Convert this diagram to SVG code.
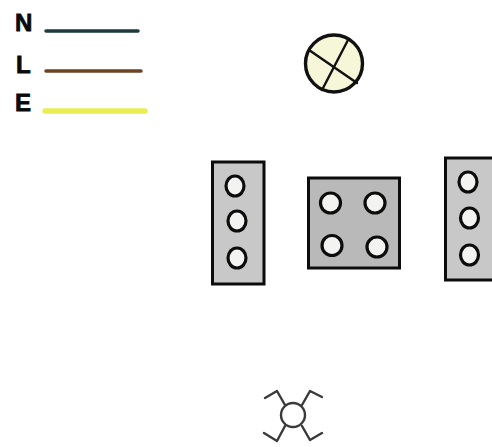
<svg xmlns="http://www.w3.org/2000/svg" width="492" height="447" viewBox="0 0 492 447">
<style>
.lbl{font-family:"Liberation Sans",Arial,sans-serif;font-weight:700;font-size:24px;fill:#0a0a0a;stroke:#0a0a0a;stroke-width:.8}
.wire{fill:none;stroke-linecap:round}
.box{stroke:#0c0c0c;stroke-width:3}
.hole{fill:#f3f3f1;stroke:#0c0c0c;stroke-width:3.200}
.thin{fill:none;stroke:#111;stroke-width:2.400;stroke-linecap:round}
.fan{fill:none;stroke:#3a3a3a;stroke-width:2.400;stroke-linecap:round;stroke-linejoin:round}
</style>
<rect width="492" height="447" fill="#fff"/>
<g id="legend-n"><text class="lbl" x="15" y="31">N</text><line class="wire" x1="46" y1="31" x2="138" y2="31" stroke="#1d3b3f" stroke-width="3.500"/></g>
<g id="legend-l"><text class="lbl" x="16" y="73">L</text><line class="wire" x1="46" y1="71" x2="141" y2="71" stroke="#6b4423" stroke-width="3.500"/></g>
<g id="legend-e"><text class="lbl" x="15" y="111">E</text><line class="wire" x1="45" y1="111" x2="145" y2="111" stroke="#e9ee55" stroke-width="5.500"/></g>
<g id="lamp"><circle cx="334" cy="63.500" r="28.500" fill="#f6f6d8" stroke="#111" stroke-width="3.400"/><line class="thin" x1="309" y1="50" x2="357" y2="83"/><line class="thin" x1="348" y1="40" x2="322" y2="90"/></g>
<g id="terminal-left"><rect class="box" x="212.500" y="162" width="51.500" height="122" fill="#c8c8c8"/>
<ellipse class="hole" cx="235" cy="186" rx="9" ry="10"/><ellipse class="hole" cx="237" cy="221" rx="9" ry="10"/><ellipse class="hole" cx="237" cy="258" rx="9" ry="10"/></g>
<g id="terminal-center"><rect class="box" x="308.500" y="178" width="91" height="90" fill="#b9b9b9"/>
<ellipse class="hole" cx="330.500" cy="203" rx="10" ry="10"/><ellipse class="hole" cx="375" cy="203" rx="10" ry="10"/><ellipse class="hole" cx="332" cy="245.500" rx="10" ry="10"/><ellipse class="hole" cx="377" cy="247" rx="10" ry="10"/></g>
<g id="terminal-right"><rect class="box" x="445.500" y="158" width="50" height="122" fill="#c8c8c8"/>
<ellipse class="hole" cx="468" cy="182" rx="9" ry="10"/><ellipse class="hole" cx="469.500" cy="218" rx="9" ry="10"/><ellipse class="hole" cx="469.500" cy="255" rx="9" ry="10"/></g>
<g id="fixture"><circle class="fan" cx="293" cy="415" r="12"/>
<polyline class="fan" points="285,405 277,391 265,398"/><polyline class="fan" points="302,405 310,391 322,397"/><polyline class="fan" points="285,426 277,441 264,433"/><polyline class="fan" points="302,426 310,440 322,433"/></g>
<g id="connectors"></g>
</svg>
